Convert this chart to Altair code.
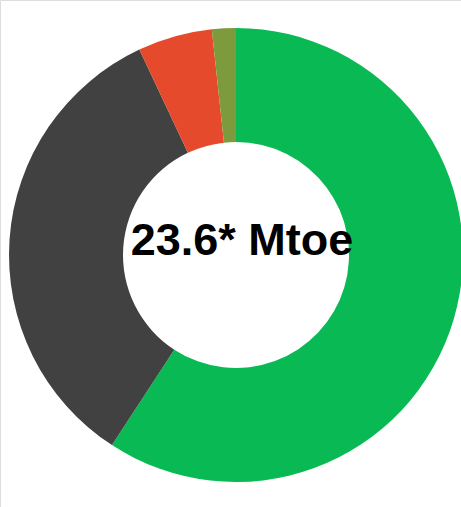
import altair as alt
import pandas as pd

# Energy supply shares (percent of the 23.6 Mtoe total)
sources = ["Renewables", "Fossil", "Nuclear", "Other"]
shares = [59.2, 33.8, 5.3, 1.7]
colors = ["#08b954", "#414141", "#e44a2b", "#7d9b3c"]
total_label = "23.6* Mtoe"

df = pd.DataFrame({"source": sources, "share": shares, "rank": list(range(len(sources)))})

ring = (
    alt.Chart(df)
    .mark_arc(outerRadius=227, innerRadius=113, stroke=None)
    .encode(
        theta=alt.Theta("share:Q", stack=True),
        order=alt.Order("rank:Q"),
        color=alt.Color(
            "source:N",
            scale=alt.Scale(domain=sources, range=colors),
            legend=None,
        ),
        x=alt.value(236),
        y=alt.value(255),
    )
)

center = (
    alt.Chart(pd.DataFrame({"label": [total_label]}))
    .mark_text(
        font="Liberation Sans, Arial, sans-serif",
        fontSize=45,
        fontWeight="bold",
        color="#000000",
        baseline="middle",
        align="center",
    )
    .encode(text="label:N", x=alt.value(242), y=alt.value(241))
)

chart = (
    alt.layer(ring, center)
    .properties(width=461, height=507, padding=0, autosize=alt.AutoSizeParams(type="none"))
    .configure_view(stroke=None)
    .configure(background="white")
)

chart.save("out.html", embed_options={"renderer": "svg", "actions": False})
